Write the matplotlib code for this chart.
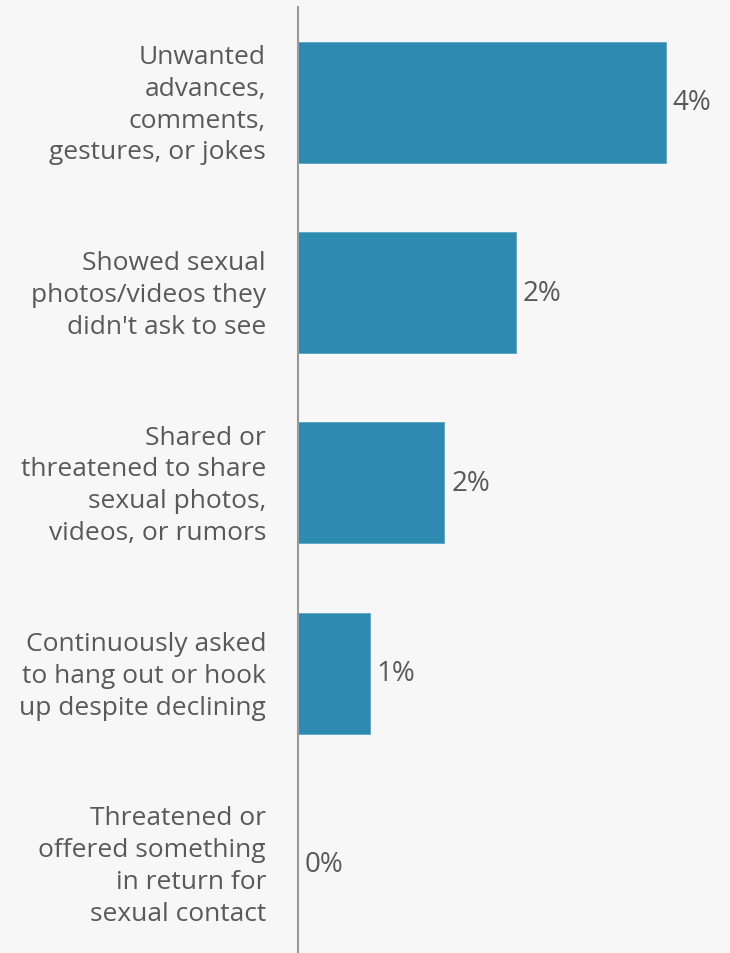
import matplotlib
matplotlib.use('Agg')
import matplotlib.pyplot as plt
import numpy as np

categories = [
    'Unwanted\nadvances,\ncomments,\ngestures, or jokes',
    'Showed sexual\nphotos/videos they\ndidn\'t ask to see',
    'Shared or\nthreatened to share\nsexual photos,\nvideos, or rumors',
    'Continuously asked\nto hang out or hook\nup despite declining',
    'Threatened or\noffered something\nin return for\nsexual contact',
]
values = [4.0, 2.37, 1.59, 0.78, 0.0]

BG = '#f7f7f7'
BAR = '#2e8ab0'
TEXT = '#595959'

plt.rcParams['font.family'] = ['Open Sans', 'DejaVu Sans']

fig = plt.figure(figsize=(7.3, 9.54), dpi=100, facecolor=BG)
ax = fig.add_axes([298 / 730, 0.0, 432 / 730, 946 / 954])
ax.set_facecolor(BG)

y = np.arange(len(categories))
ax.barh(y, values, height=0.635, color=BAR, edgecolor='#5aa6c8', linewidth=0.6)

ax.set_xlim(0, 4.7)
ax.set_ylim(4.47, -0.5)

# value labels just past the bar ends
for yi, v in zip(y, values):
    ax.annotate(f'{round(v):d}%', xy=(v, yi), xytext=(7, 0), textcoords='offset pixels',
                ha='left', va='center', fontsize=20, color=TEXT)

# wrapped category names, right aligned left of the axis line
for yi, cat in zip(y, categories):
    ax.annotate(cat, xy=(0, yi), xytext=(-32, -2), textcoords='offset pixels',
                ha='right', va='center', fontsize=19, color=TEXT,
                linespacing=1.36, annotation_clip=False)

for s in ['top', 'right', 'bottom']:
    ax.spines[s].set_visible(False)
ax.spines['left'].set_color('#9a9a9a')
ax.spines['left'].set_linewidth(1.5)
ax.set_xticks([])
ax.set_yticks([])

fig.savefig('out.png', dpi=100, facecolor=BG)
plt.close(fig)
